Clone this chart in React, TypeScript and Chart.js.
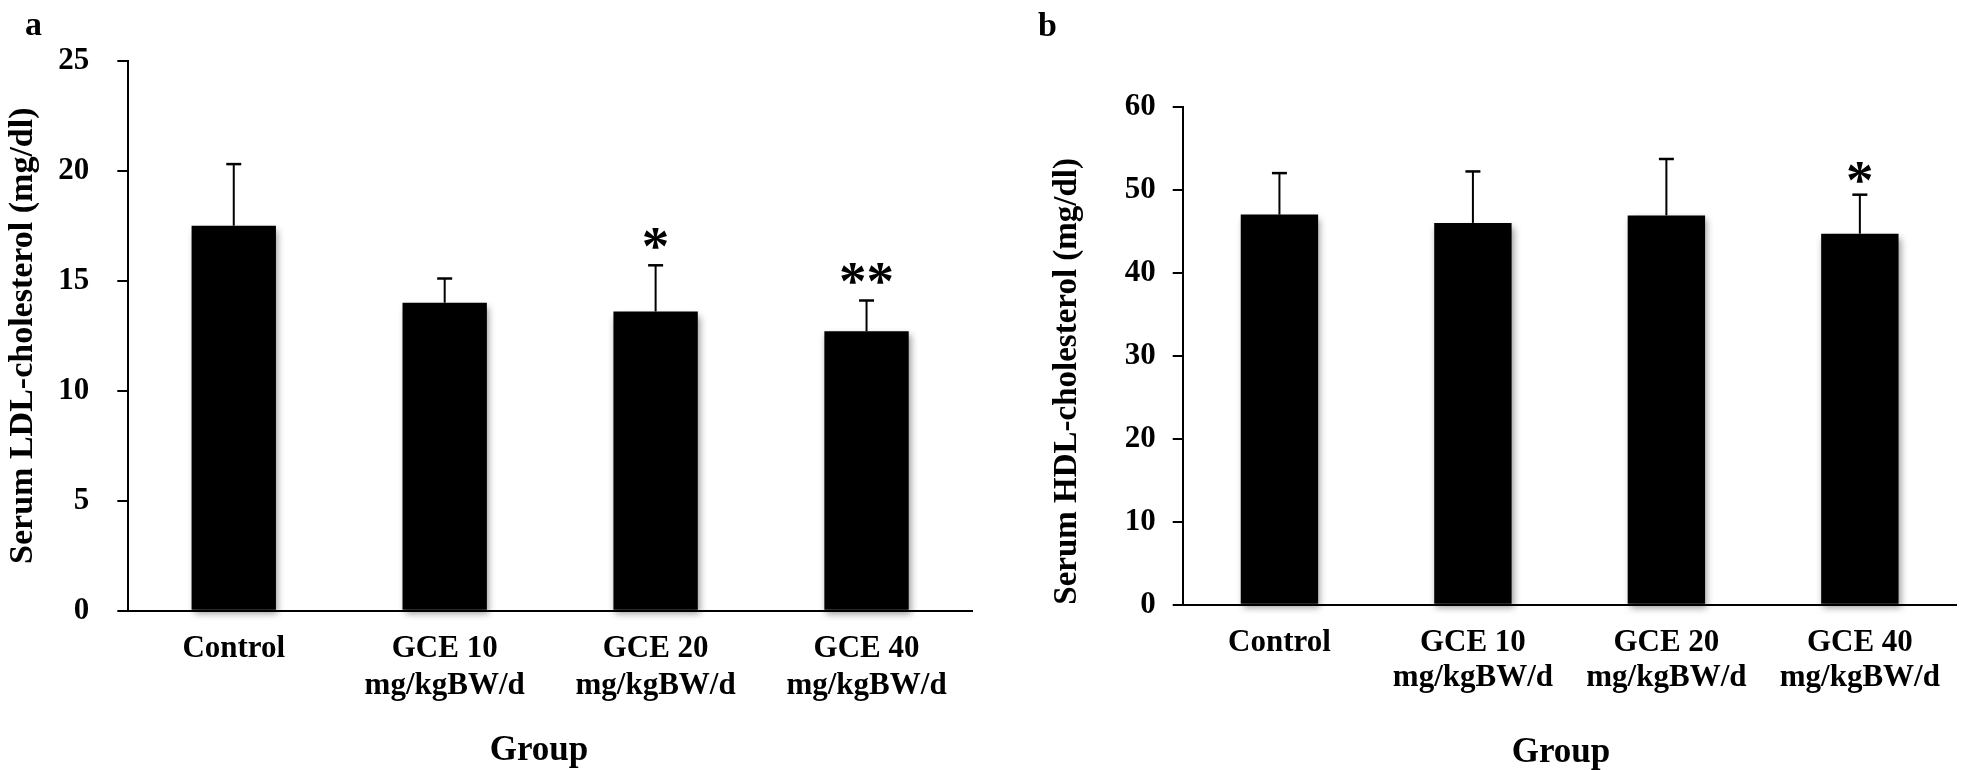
import React, { useEffect, useRef } from "react";
import { Chart, registerables } from "chart.js";

Chart.register(...registerables);

// ---------- data ----------
const groupLabels: (string | string[])[] = [
  "Control",
  ["GCE 10", "mg/kgBW/d"],
  ["GCE 20", "mg/kgBW/d"],
  ["GCE 40", "mg/kgBW/d"],
];

const ldlMeans = [17.5, 14.0, 13.6, 12.7];
const ldlErrors = [2.8, 1.1, 2.1, 1.4];
const ldlMarks = ["", "", "*", "**"];
const ldlTicks = [0, 5, 10, 15, 20, 25];

const hdlMeans = [47.0, 46.0, 46.9, 44.7];
const hdlErrors = [5.0, 6.2, 6.8, 4.7];
const hdlMarks = ["", "", "", "*"];
const hdlTicks = [0, 10, 20, 30, 40, 50, 60];

const FONT = "'Liberation Serif', 'Times New Roman', serif";

type Panel = {
  letter: string;
  letterX: number;
  letterY: number;
  yTitle: string;
  yTitleAlign: "start" | "center" | "end";
  yTitlePad: number;
  yTitleSize: number;
  means: number[];
  errors: number[];
  marks: string[];
  ticks: number[];
  canvasLeft: number;
  canvasWidth: number;
  axisWidth: number;
  top: number;
  bottom: number;
  rightPad: number;
  tickLength: number;
  tickPad: number;
  xLabelPad: number;
  xLineHeight: number;
  groupX: number;
  groupY: number;
  starGap: number;
};

const panelA: Panel = {
  letter: "a",
  letterX: 25,
  letterY: 35,
  yTitle: "Serum LDL-cholesterol (mg/dl)",
  yTitleAlign: "center",
  yTitlePad: 3,
  yTitleSize: 34,
  means: ldlMeans,
  errors: ldlErrors,
  marks: ldlMarks,
  ticks: ldlTicks,
  canvasLeft: 0,
  canvasWidth: 1000,
  axisWidth: 128.3,
  top: 60.7,
  bottom: 610.7,
  rightPad: 28,
  tickLength: 11,
  tickPad: 28,
  xLabelPad: 20,
  xLineHeight: 37,
  groupX: 539,
  groupY: 760,
  starGap: 27,
};

const panelB: Panel = {
  letter: "b",
  letterX: 38,
  letterY: 36,
  yTitle: "Serum HDL-cholesterol (mg/dl)",
  yTitleAlign: "start",
  yTitlePad: 47.7,
  yTitleSize: 33,
  means: hdlMeans,
  errors: hdlErrors,
  marks: hdlMarks,
  ticks: hdlTicks,
  canvasLeft: 1000,
  canvasWidth: 961,
  axisWidth: 182.7,
  top: 106.7,
  bottom: 604.7,
  rightPad: 4.3,
  tickLength: 10,
  tickPad: 17,
  xLabelPad: 20.5,
  xLineHeight: 35,
  groupX: 561,
  groupY: 762,
  starGap: 22,
};

function makePlugin(p: Panel) {
  return {
    id: "annotate_" + p.letter,
    beforeDatasetsDraw(chart: any) {
      const ctx = chart.ctx;
      ctx.save();
      ctx.shadowColor = "rgba(0,0,0,0.4)";
      ctx.shadowBlur = 7;
      ctx.shadowOffsetX = 2;
      ctx.shadowOffsetY = 4;
    },
    afterDatasetsDraw(chart: any) {
      const ctx = chart.ctx;
      ctx.restore();
      const meta = chart.getDatasetMeta(0);
      const yScale = chart.scales.y;
      ctx.save();
      ctx.strokeStyle = "#000";
      ctx.fillStyle = "#000";
      meta.data.forEach((bar: any, i: number) => {
        const x = bar.x;
        const yTop = yScale.getPixelForValue(p.means[i] + p.errors[i]);
        ctx.lineWidth = 2;
        ctx.beginPath();
        ctx.moveTo(x, bar.y);
        ctx.lineTo(x, yTop);
        ctx.stroke();
        ctx.lineWidth = 2.5;
        ctx.beginPath();
        ctx.moveTo(x - 7.5, yTop);
        ctx.lineTo(x + 7.5, yTop);
        ctx.stroke();
        const mark = p.marks[i];
        if (mark) {
          ctx.font = `bold 55px ${FONT}`;
          ctx.textAlign = "center";
          ctx.textBaseline = "alphabetic";
          const m = ctx.measureText(mark);
          const center = yTop - p.starGap;
          const yb = center - (m.actualBoundingBoxDescent - m.actualBoundingBoxAscent) / 2;
          ctx.fillText(mark, x, yb);
        }
      });
      ctx.restore();
    },
    afterDraw(chart: any) {
      const ctx = chart.ctx;
      ctx.save();
      ctx.fillStyle = "#000";
      ctx.textBaseline = "alphabetic";
      ctx.font = `bold 34px ${FONT}`;
      ctx.textAlign = "left";
      ctx.fillText(p.letter, p.letterX, p.letterY);
      ctx.font = `bold 35px ${FONT}`;
      ctx.textAlign = "center";
      ctx.fillText("Group", p.groupX, p.groupY);
      ctx.restore();
    },
  };
}

function PanelChart({ p }: { p: Panel }) {
  const ref = useRef<HTMLCanvasElement | null>(null);
  useEffect(() => {
    if (!ref.current) return;
    const t = p.ticks;
    const chart = new Chart(ref.current, {
      type: "bar",
      data: {
        labels: groupLabels as any,
        datasets: [
          {
            data: p.means,
            backgroundColor: "#000",
            borderWidth: 0,
            barPercentage: 0.4,
            categoryPercentage: 1,
            clip: false as any,
          },
        ],
      },
      options: {
        responsive: false,
        animation: false,
        layout: { padding: { left: 0, top: p.top, right: p.rightPad, bottom: 0 } },
        plugins: {
          legend: { display: false },
          tooltip: { enabled: false },
          title: { display: false },
        },
        scales: {
          x: {
            grid: { display: false, drawTicks: false },
            border: { display: true, color: "#000", width: 2 },
            ticks: {
              color: "#000",
              font: { family: FONT, size: 31, weight: "bold", lineHeight: `${p.xLineHeight}px` },
              padding: p.xLabelPad,
              maxRotation: 0,
              minRotation: 0,
              autoSkip: false,
            },
            afterFit: (s: any) => {
              s.height = 770 - p.bottom;
            },
          },
          y: {
            min: t[0],
            max: t[t.length - 1],
            ticks: {
              stepSize: t[1] - t[0],
              color: "#000",
              font: { family: FONT, size: 31, weight: "bold" },
              padding: p.tickPad,
            },
            grid: {
              drawOnChartArea: false,
              drawTicks: true,
              tickLength: p.tickLength,
              color: "#000",
              lineWidth: 2,
            },
            border: { display: true, color: "#000", width: 2 },
            title: {
              display: true,
              text: p.yTitle,
              align: p.yTitleAlign,
              color: "#000",
              font: { family: FONT, size: p.yTitleSize, weight: "bold" },
              padding: { top: p.yTitlePad, bottom: 0 },
            },
            afterFit: (s: any) => {
              s.width = p.axisWidth;
            },
          },
        },
      } as any,
      plugins: [makePlugin(p)],
    });
    return () => chart.destroy();
  }, [p]);
  return (
    <canvas
      ref={ref}
      width={p.canvasWidth}
      height={770}
      style={{
        position: "absolute",
        left: p.canvasLeft,
        top: 0,
        width: p.canvasWidth,
        height: 770,
      }}
    />
  );
}

export default function App() {
  return (
    <div
      style={{
        position: "fixed",
        left: 0,
        top: 0,
        width: 1961,
        height: 770,
        background: "#fff",
        overflow: "hidden",
      }}
    >
      <PanelChart p={panelA} />
      <PanelChart p={panelB} />
    </div>
  );
}
